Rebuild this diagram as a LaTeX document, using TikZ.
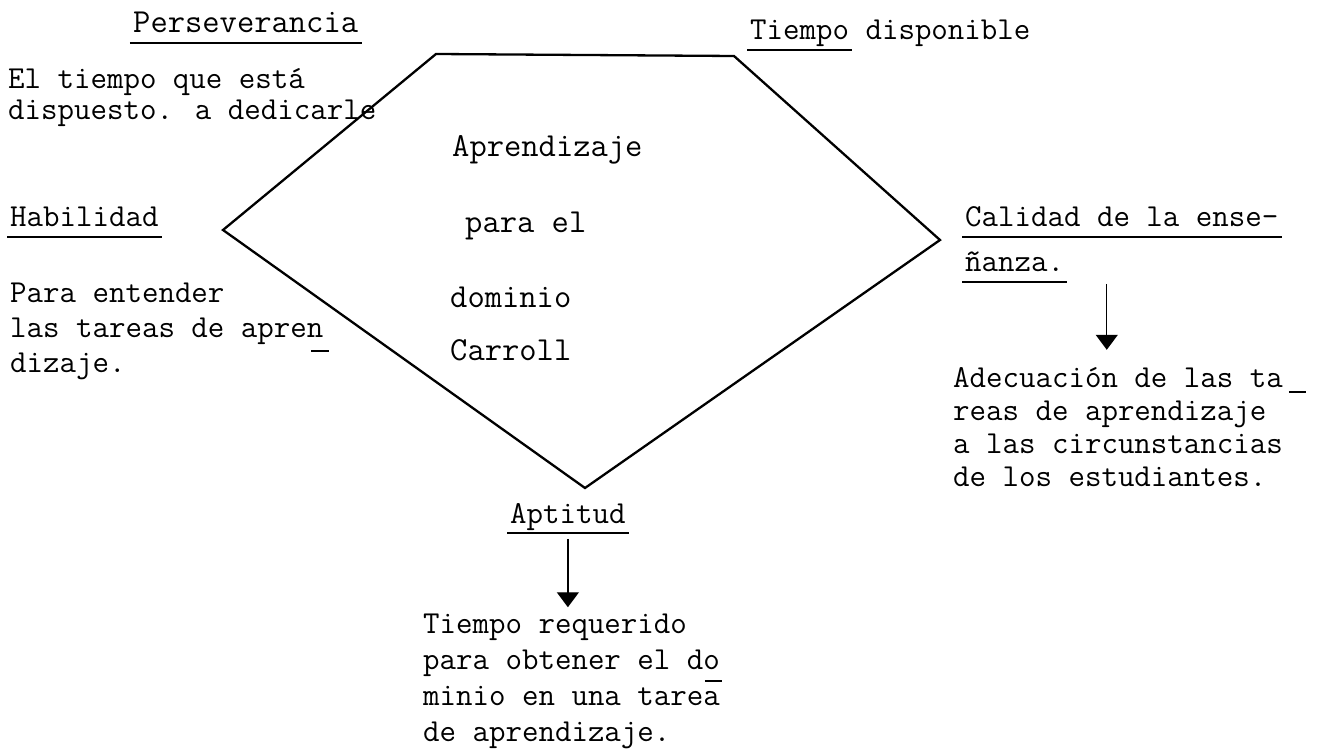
\documentclass[tikz,border=0pt]{standalone}
\usetikzlibrary{arrows.meta}
\newcommand\letra[1][35pt]{\fontsize{32}{#1}\selectfont\ttfamily}
\newcommand\letrag{\fontsize{33.6}{37}\selectfont\ttfamily}
\newsavebox\cajasub
\newcommand\subr[1]{\sbox\cajasub{#1}\rlap{\kern-0.1em\rule[-0.33em]{\dimexpr\wd\cajasub+0.2em\relax}{0.06em}}\usebox\cajasub}
\newcommand\guion[2]{\rlap{\kern#1\rule[#2]{0.55em}{0.06em}}}
\begin{document}
\begin{tikzpicture}[x=1pt,y=-1pt,
    texto/.style={anchor=base west,inner sep=0pt,align=left,font=\letra},
    lado/.style={line width=2.3pt,line join=miter},
    flecha/.style={line width=1.3pt,-{Triangle[length=15pt,width=22pt]}}]
  \useasboundingbox (0,0) rectangle (1327,751);
  % the five corners
  \coordinate (supizq) at (436,54);
  \coordinate (supder) at (734,56);
  \coordinate (der) at (940,240);
  \coordinate (inf) at (585,488);
  \coordinate (izq) at (223,230);
  \draw[lado] (supizq) -- (supder) -- (der) -- (inf) -- (izq) -- cycle;
  % centre
  \node[texto,font=\letrag] (aprend) at (452,157) {Aprendizaje};
  \node[texto,font=\letrag] (parael) at (465,233) {para el};
  \node[texto,font=\letrag] (dominio) at (450,307) {dominio};
  \node[texto,font=\letrag] (carroll) at (450,360) {Carroll};
  % top left (multi-line nodes sit on their last line)
  \node[texto,font=\letrag] (persev) at (133,33) {\subr{Perseverancia}};
  \node[texto,font={\letra[31pt]}] (dispuesto) at (8,120)
    {El tiempo que está\\dispuesto. a dedicarle};
  % top right
  \node[texto] (tiempo) at (750,40) {\subr{Tiempo} disponible};
  % left
  \node[texto] (habil) at (10,227) {\subr{Habilidad}};
  \node[texto] (entender) at (10,372)
    {Para entender\\las tareas de apren\guion{-0.37em}{-0.47em}\\dizaje.};
  % right
  \node[texto,font={\letra[45pt]}] (calidad) at (965,272)
    {\subr{Calidad de la ense-}\\\subr{ñanza.}};
  \node[texto,font={\letra[33pt]}] (adec) at (953,486)
    {Adecuación de las ta\guion{0.19em}{-0.18em}\\reas de aprendizaje\\a las circunstancias\\de los estudiantes.};
  % bottom
  \node[texto] (aptitud) at (510,523) {\subr{Aptitud}};
  \node[texto,font={\letra[36pt]}] (requerido) at (423,741)
    {Tiempo requerido\\para obtener el do\guion{-0.47em}{-0.4em}\\minio en una tarea\\de aprendizaje.};
  \draw[flecha,shorten >=17pt] ([xshift=-15pt,yshift=-1pt]calidad.south) -- ([xshift=-15pt]calidad.south |- adec.north);
  \draw[flecha,shorten >=6pt] ([yshift=-5pt]aptitud.south) -- (aptitud.south |- requerido.north);
\end{tikzpicture}
\end{document}
